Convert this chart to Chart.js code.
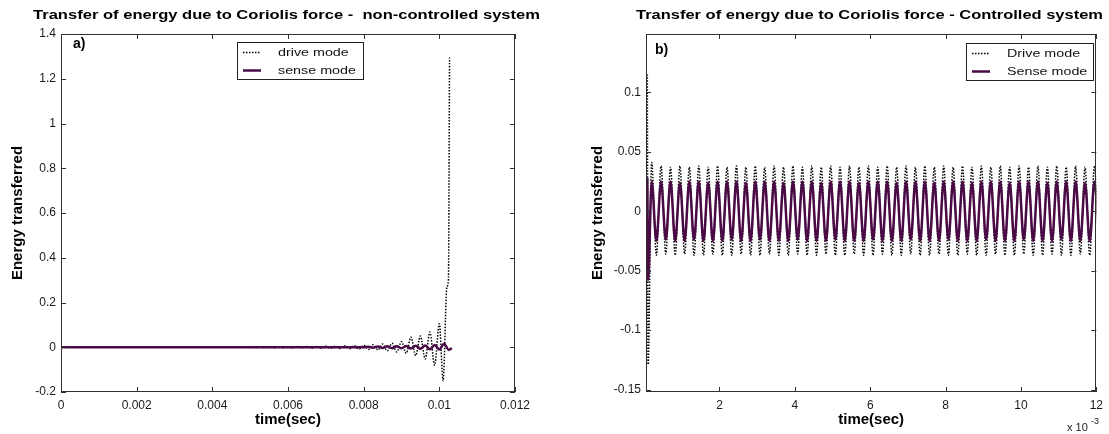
<!DOCTYPE html>
<html>
<head>
<meta charset="utf-8">
<script src="https://cdn.jsdelivr.net/npm/chart.js@4.4.1/dist/chart.umd.min.js"></script>
<style>
  html, body { margin: 0; padding: 0; background: #fff; }
  #wrap { position: relative; width: 1109px; height: 434px; overflow: hidden; background: #fff; }
  canvas { position: absolute; top: 0; }
  #chartA { left: 0; }
  #chartB { left: 576px; }
</style>
</head>
<body>
<div id="wrap">
  <canvas id="chartA" width="576" height="434"></canvas>
  <canvas id="chartB" width="533" height="434"></canvas>
</div>
<script>
// ---- panel a) non-controlled system (time in seconds) ----
const namesA = ['drive mode', 'sense mode'];
const timeDriveA = [0, 0.005,
  0.005125, 0.00525, 0.005375, 0.0055, 0.005625, 0.00575, 0.005875, 0.006, 0.006125, 0.00625,
  0.006375, 0.0065, 0.006625, 0.00675, 0.006875, 0.007, 0.007125, 0.00725, 0.007375, 0.0075,
  0.007625, 0.00775, 0.007875, 0.008, 0.008125, 0.00825, 0.008375, 0.0085, 0.008625, 0.00875,
  0.008875, 0.009, 0.009125, 0.00925, 0.009375, 0.0095, 0.009625, 0.00975, 0.009875, 0.01,
  0.0101, 0.0102, 0.01024, 0.01027];
const driveA = [0, 0.001,
  -0.001, 0.0015, -0.0015, 0.002, -0.002, 0.002, -0.0025, 0.0025, -0.003, 0.003,
  -0.003, 0.0035, -0.0035, 0.004, -0.004, 0.0045, -0.005, 0.005, -0.0055, 0.006,
  -0.0065, 0.007, -0.008, 0.009, -0.01, 0.011, -0.012, 0.014, -0.016, 0.018,
  -0.021, 0.025, -0.027, 0.045, -0.037, 0.05, -0.052, 0.068, -0.08, 0.105,
  -0.15, 0.27, 0.3, 1.295];
const timeSenseA = [0, 0.008, 0.008125, 0.00825, 0.008375, 0.0085, 0.008625, 0.00875, 0.008875, 0.009,
  0.009125, 0.00925, 0.009375, 0.0095, 0.009625, 0.00975, 0.009875, 0.01, 0.010125, 0.01025, 0.01033];
const senseA = [0, 0, 0.002, -0.002, 0.003, -0.003, 0.004, -0.004, 0.005, -0.005,
  0.006, -0.006, 0.007, -0.007, 0.008, -0.009, 0.01, -0.01, 0.016, -0.012, -0.004];
const xTicksA = [0, 0.002, 0.004, 0.006, 0.008, 0.01, 0.012];
const yTicksA = [-0.2, 0, 0.2, 0.4, 0.6, 0.8, 1, 1.2, 1.4];

// ---- panel b) controlled system (time in ms, axis shows x 10^-3) ----
const namesB = ['Drive mode', 'Sense mode'];
const timeB = [0.085, 0.105,
  0.2, 0.325, 0.45, 0.575, 0.7, 0.825, 0.95, 1.075, 1.2, 1.325,
  1.45, 1.575, 1.7, 1.825, 1.95, 2.075, 2.2, 2.325, 2.45, 2.575,
  2.7, 2.825, 2.95, 3.075, 3.2, 3.325, 3.45, 3.575, 3.7, 3.825,
  3.95, 4.075, 4.2, 4.325, 4.45, 4.575, 4.7, 4.825, 4.95, 5.075,
  5.2, 5.325, 5.45, 5.575, 5.7, 5.825, 5.95, 6.075, 6.2, 6.325,
  6.45, 6.575, 6.7, 6.825, 6.95, 7.075, 7.2, 7.325, 7.45, 7.575,
  7.7, 7.825, 7.95, 8.075, 8.2, 8.325, 8.45, 8.575, 8.7, 8.825,
  8.95, 9.075, 9.2, 9.325, 9.45, 9.575, 9.7, 9.825, 9.95, 10.075,
  10.2, 10.325, 10.45, 10.575, 10.7, 10.825, 10.95, 11.075, 11.2, 11.325,
  11.45, 11.575, 11.7, 11.825, 11.95, 12.075];
const driveB = [0.115, -0.129,
  0.041, -0.037, 0.038, -0.036, 0.037, -0.037, 0.038, -0.036, 0.037, -0.037,
  0.038, -0.037, 0.037, -0.036, 0.038, -0.037, 0.037, -0.037, 0.038, -0.036,
  0.037, -0.037, 0.038, -0.037, 0.037, -0.036, 0.038, -0.037, 0.037, -0.037,
  0.038, -0.036, 0.037, -0.037, 0.038, -0.037, 0.037, -0.036, 0.038, -0.037,
  0.037, -0.037, 0.038, -0.036, 0.037, -0.037, 0.038, -0.037, 0.037, -0.036,
  0.038, -0.037, 0.037, -0.037, 0.038, -0.036, 0.037, -0.037, 0.038, -0.037,
  0.037, -0.036, 0.038, -0.037, 0.037, -0.037, 0.038, -0.036, 0.037, -0.037,
  0.038, -0.037, 0.037, -0.036, 0.038, -0.037, 0.037, -0.037, 0.038, -0.036,
  0.037, -0.037, 0.038, -0.037, 0.037, -0.036, 0.038, -0.037, 0.037, -0.037,
  0.038, -0.036, 0.037, -0.037, 0.038, -0.037];
const senseB = [0.028, -0.058,
  0.025, -0.025, 0.025, -0.024, 0.025, -0.025, 0.024, -0.025, 0.025, -0.024,
  0.025, -0.025, 0.024, -0.025, 0.025, -0.025, 0.025, -0.024, 0.025, -0.025,
  0.024, -0.025, 0.025, -0.024, 0.025, -0.025, 0.025, -0.025, 0.024, -0.025,
  0.025, -0.024, 0.025, -0.025, 0.025, -0.025, 0.024, -0.025, 0.025, -0.024,
  0.025, -0.025, 0.025, -0.025, 0.024, -0.025, 0.025, -0.024, 0.025, -0.025,
  0.025, -0.025, 0.024, -0.025, 0.025, -0.024, 0.025, -0.025, 0.025, -0.025,
  0.024, -0.025, 0.025, -0.024, 0.025, -0.025, 0.025, -0.025, 0.024, -0.025,
  0.025, -0.024, 0.025, -0.025, 0.025, -0.025, 0.024, -0.025, 0.025, -0.024,
  0.025, -0.025, 0.025, -0.025, 0.024, -0.025, 0.025, -0.024, 0.025, -0.025,
  0.025, -0.025, 0.024, -0.025, 0.025, -0.024];
const xTicksB = [2, 4, 6, 8, 10, 12];
const yTicksB = [-0.15, -0.1, -0.05, 0, 0.05, 0.1];

const FONT = 'Liberation Sans, Arial, Helvetica, sans-serif';
const PURPLE = '#4a0a46';
Chart.defaults.font.family = FONT;

const toPoints = (xs, ys) => xs.map((x, i) => ({ x: x, y: ys[i] }));

// draw text squeezed/stretched horizontally
function wideText(ctx, text, x, y, font, k, align) {
  ctx.save();
  ctx.font = font;
  ctx.translate(x, y);
  ctx.scale(k, 1);
  ctx.textAlign = align;
  ctx.textBaseline = 'middle';
  ctx.fillText(text, 0, 0);
  ctx.restore();
}

// matlab style frame: box, inward ticks on 4 sides, title, legend, panel tag
const matlabFrame = {
  id: 'matlabFrame',
  afterDatasetsDraw(chart, args, o) {
    const ctx = chart.ctx;
    const { left, right, top, bottom } = chart.chartArea;
    const xs = chart.scales.x, ys = chart.scales.y;
    ctx.save();
    ctx.strokeStyle = '#303030';
    ctx.lineWidth = 1;
    ctx.setLineDash([]);
    ctx.strokeRect(Math.round(left) + 0.5, Math.round(top) + 0.5,
      Math.round(right - left) - 1, Math.round(bottom - top) - 1);
    ctx.beginPath();
    xs.ticks.forEach(t => {
      const px = Math.round(xs.getPixelForValue(t.value)) + 0.5;
      ctx.moveTo(px, bottom); ctx.lineTo(px, bottom - 5);
      ctx.moveTo(px, top); ctx.lineTo(px, top + 5);
    });
    ys.ticks.forEach(t => {
      const py = Math.round(ys.getPixelForValue(t.value)) + 0.5;
      ctx.moveTo(left, py); ctx.lineTo(left + 5, py);
      ctx.moveTo(right, py); ctx.lineTo(right - 5, py);
    });
    ctx.stroke();

    // title
    ctx.fillStyle = '#000';
    ctx.font = 'bold 13px ' + FONT;
    const tw = ctx.measureText(o.title).width;
    wideText(ctx, o.title, o.titleX, 15, 'bold 13px ' + FONT, o.titleW / tw, 'center');

    // panel tag
    ctx.font = 'bold 14px ' + FONT;
    ctx.textAlign = 'left';
    ctx.textBaseline = 'middle';
    ctx.fillText(o.tag, o.tagX, o.tagY);

    // legend
    const lg = o.legend;
    ctx.fillStyle = '#fff';
    ctx.fillRect(lg.x, lg.y, lg.w, lg.h);
    ctx.strokeStyle = '#202020';
    ctx.lineWidth = 1;
    ctx.strokeRect(lg.x + 0.5, lg.y + 0.5, lg.w, lg.h);
    chart.data.datasets.forEach((ds, i) => {
      const cy = lg.y + 10.5 + i * 18;
      ctx.beginPath();
      ctx.setLineDash(ds.borderDash || []);
      ctx.strokeStyle = ds.borderColor;
      ctx.lineWidth = ds.borderWidth;
      ctx.moveTo(lg.x + 6, cy);
      ctx.lineTo(lg.x + 24, cy);
      ctx.stroke();
      ctx.setLineDash([]);
      ctx.fillStyle = '#111';
      wideText(ctx, ds.label, lg.x + 41, cy, '11px ' + FONT, 1.3, 'left');
    });

    // exponent note under x axis
    if (o.exponent) {
      ctx.fillStyle = '#222';
      ctx.font = '11px ' + FONT;
      ctx.textAlign = 'left';
      ctx.textBaseline = 'middle';
      ctx.fillText('x 10', o.exponent.x, o.exponent.y);
      ctx.font = '9px ' + FONT;
      ctx.fillText('-3', o.exponent.x + 24, o.exponent.y - 6);
    }
    ctx.restore();
  }
};

function makeChart(id, cfg) {
  return new Chart(document.getElementById(id), {
    type: 'line',
    data: {
      datasets: [
        {
          label: cfg.names[0], data: cfg.drive, borderColor: '#000', borderWidth: 1.5,
          borderDash: [1.5, 1.5], pointRadius: 0, cubicInterpolationMode: 'monotone', order: 1
        },
        {
          label: cfg.names[1], data: cfg.sense, borderColor: PURPLE, borderWidth: 2.5,
          pointRadius: 0, cubicInterpolationMode: 'monotone', order: 0
        }
      ]
    },
    options: {
      responsive: false,
      animation: false,
      devicePixelRatio: 1,
      layout: { padding: { top: 34, right: cfg.padRight, left: 0, bottom: 0 } },
      plugins: {
        legend: { display: false },
        tooltip: { enabled: false },
        matlabFrame: cfg.frame
      },
      scales: {
        x: {
          type: 'linear', min: cfg.xMin, max: cfg.xMax,
          grid: { display: false, drawTicks: false },
          border: { display: false },
          afterBuildTicks: s => { s.ticks = cfg.xTicks.map(v => ({ value: v })); },
          afterFit: s => { s.height = 42; },
          ticks: { color: '#1a1a1a', font: { size: 12 }, padding: 6, maxRotation: 0, callback: v => String(v) },
          title: { display: true, text: 'time(sec)', color: '#000', font: { size: 15, weight: 'bold' }, padding: { top: 0, bottom: 5 } }
        },
        y: {
          min: cfg.yMin, max: cfg.yMax,
          grid: { display: false, drawTicks: false },
          border: { display: false },
          afterBuildTicks: s => { s.ticks = cfg.yTicks.map(v => ({ value: v })); },
          afterFit: s => { s.width = cfg.yWidth; },
          ticks: { color: '#1a1a1a', font: { size: 12 }, padding: 5, callback: v => String(v) },
          title: { display: true, text: 'Energy transferred', color: '#000', font: { size: 15, weight: 'bold' }, padding: { top: cfg.yTitlePad, bottom: 0 } }
        }
      }
    },
    plugins: [matlabFrame]
  });
}

makeChart('chartA', {
  names: namesA,
  drive: toPoints(timeDriveA, driveA),
  sense: toPoints(timeSenseA, senseA),
  xMin: 0, xMax: 0.012, yMin: -0.2, yMax: 1.4,
  xTicks: xTicksA, yTicks: yTicksA,
  padRight: 61, yWidth: 61, yTitlePad: 9,
  frame: {
    title: 'Transfer of energy due to Coriolis force -  non-controlled system',
    titleX: 286.5, titleW: 507,
    tag: 'a)', tagX: 73, tagY: 44,
    legend: { x: 237, y: 42, w: 126, h: 37 }
  }
});

makeChart('chartB', {
  names: namesB,
  drive: toPoints(timeB, driveB),
  sense: toPoints(timeB, senseB),
  xMin: 0.05, xMax: 12, yMin: -0.152, yMax: 0.149,
  xTicks: xTicksB, yTicks: yTicksB,
  padRight: 9, yWidth: 70, yTitlePad: 13,
  frame: {
    title: 'Transfer of energy due to Coriolis force - Controlled system',
    titleX: 293.5, titleW: 467,
    tag: 'b)', tagX: 79, tagY: 50,
    legend: { x: 390, y: 43, w: 127, h: 37 },
    exponent: { x: 491, y: 428 }
  }
});
</script>
</body>
</html>
